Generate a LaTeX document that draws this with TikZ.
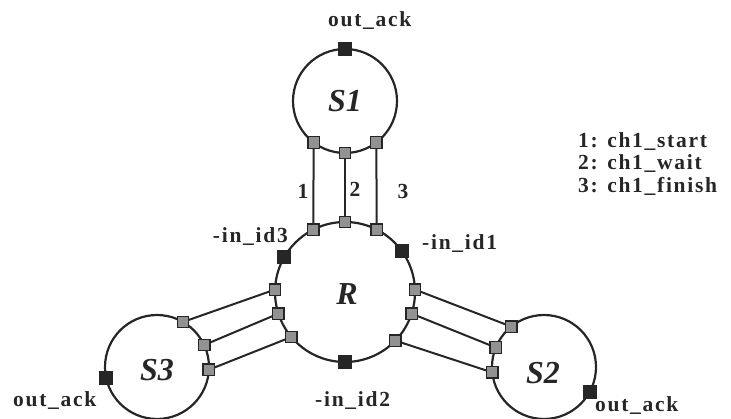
\documentclass[tikz,border=0pt]{standalone}
\usepackage{fontspec}
\setmainfont{Liberation Serif}
\newfontfamily\tagfont{Liberation Serif}[LetterSpace=8]
\definecolor{ink}{HTML}{262626}
\definecolor{portgray}{HTML}{929292}
\begin{document}
\begin{tikzpicture}[x=1pt,y=-1pt,
  ring/.style={circle,draw=ink,line width=2.2pt,inner sep=0pt,outer sep=0pt,minimum size=#1},
  port/.style={rectangle,draw=ink,fill=portgray,line width=1.4pt,minimum size=11.5pt,inner sep=0pt,outer sep=0pt},
  ackport/.style={rectangle,draw=ink,fill=ink,line width=0.8pt,minimum size=13pt,inner sep=0pt},
  wire/.style={draw=ink,line width=2pt},
  tag/.style={font=\tagfont\bfseries\fontsize{21.5}{24}\selectfont,text=ink,inner sep=0pt},
  procname/.style={font=\bfseries\itshape\fontsize{32}{36}\selectfont,text=ink,inner sep=0pt}
]
\useasboundingbox (0,0) rectangle (731,419);

% processes
\node[ring=104pt] (S1) at (345,101) {};
\node[ring=140pt] (R)  at (345,292) {};
\node[ring=104pt] (S3) at (157,367) {};
\node[ring=104pt] (S2) at (544,367) {};

\node[procname] (nS1) at (345,101) {S1};
\node[procname] (nR)  at (347,294) {R};
\node[procname] (nS3) at (157,370) {S3};
\node[procname] (nS2) at (543,373) {S2};

% channel ports of S1 and the matching ports on R
\node[port] (s1a) at (S1.-127) {};
\node[port] (s1b) at (S1.-90) {};
\node[port] (s1c) at (S1.-53) {};
\node[port] (rta) at (R.117) {};
\node[port] (rtb) at (R.90) {};
\node[port] (rtc) at (R.63) {};

% ports towards S3
\node[port] (rla) at (R.178) {};
\node[port] (rlb) at (R.198) {};
\node[port] (rlc) at (R.220) {};
\node[port] (s3a) at (S3.60) {};
\node[port] (s3b) at (S3.25) {};
\node[port] (s3c) at (S3.-3) {};

% ports towards S2
\node[port] (rra) at (R.2) {};
\node[port] (rrb) at (R.-18) {};
\node[port] (rrc) at (R.-44) {};
\node[port] (s2a) at (S2.129) {};
\node[port] (s2b) at (S2.158) {};
\node[port] (s2c) at (S2.186) {};

% acknowledge / id ports
\node[ackport] (ack1) at (S1.90) {};
\node[ackport] (ack3) at (S3.192) {};
\node[ackport] (ack2) at (S2.-29) {};
\node[ackport] (id3) at (R.150) {};
\node[ackport] (id1) at (R.36) {};
\node[ackport] (id2) at (R.-90) {};

% channels
\draw[wire] (s1a) -- (rta);
\draw[wire] (s1b) -- (rtb);
\draw[wire] (s1c) -- (rtc);
\draw[wire] (rla) -- (s3a);
\draw[wire] (rlb) -- (s3b);
\draw[wire] (rlc) -- (s3c);
\draw[wire] (rra) -- (s2a);
\draw[wire] (rrb) -- (s2b);
\draw[wire] (rrc) -- (s2c);

% channel numbers
\node[tag] (c1) at (303,191) {1};
\node[tag] (c2) at (355,189) {2};
\node[tag] (c3) at (403,191) {3};

% port labels
\node[tag,anchor=base west] (tAck1) at (328,27) {out\_ack};
\node[tag,anchor=base west] (tAck3) at (13,407) {out\_ack};
\node[tag,anchor=base west] (tAck2) at (595,412) {out\_ack};
\node[tag,anchor=base east] (tId3) at (288,243) {-in\_id3};
\node[tag,anchor=base west] (tId1) at (422,250) {-in\_id1};
\node[tag,anchor=base west] (tId2) at (315,407) {-in\_id2};

% legend
\node[tag,anchor=base west] (l1) at (578,148) {1: ch1\_start};
\node[tag,anchor=base west] (l2) at (578,170) {2: ch1\_wait};
\node[tag,anchor=base west] (l3) at (578,193) {3: ch1\_finish};
\end{tikzpicture}
\end{document}
